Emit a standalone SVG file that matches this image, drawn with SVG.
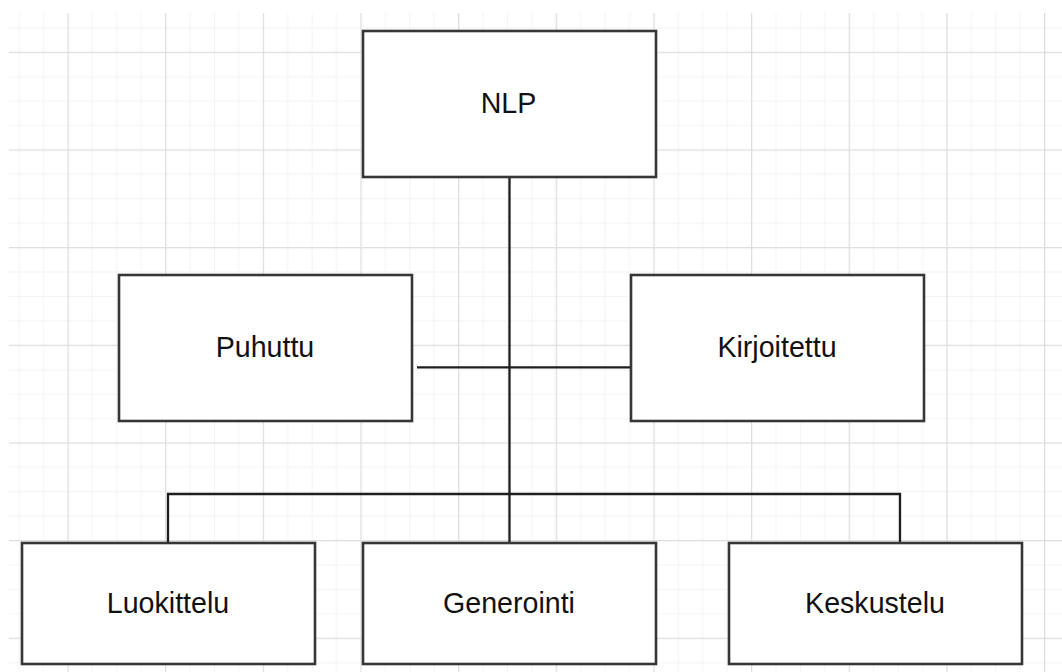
<svg xmlns="http://www.w3.org/2000/svg" width="1062" height="672" viewBox="0 0 1062 672">
  <style>
    .box { fill: #ffffff; stroke: #363636; stroke-width: 2.6; }
    .label { font-family: "Liberation Sans", Arial, sans-serif; font-size: 28.6px; fill: #111111; text-anchor: middle; }
    .link { fill: none; stroke: #1e1e1e; stroke-width: 2.3; }
  </style>
  <defs>
    <pattern id="grid" patternUnits="userSpaceOnUse" x="67.5" y="51.8" width="97.65" height="97.65">
      <rect x="24.41" y="0" width="1" height="97.65" fill="#f3f3f3"/>
      <rect x="48.83" y="0" width="1" height="97.65" fill="#f3f3f3"/>
      <rect x="73.24" y="0" width="1" height="97.65" fill="#f3f3f3"/>
      <rect x="0" y="24.41" width="97.65" height="1" fill="#f3f3f3"/>
      <rect x="0" y="48.83" width="97.65" height="1" fill="#f3f3f3"/>
      <rect x="0" y="73.24" width="97.65" height="1" fill="#f3f3f3"/>
      <rect x="0" y="0" width="1.2" height="97.65" fill="#dcdcdc"/>
      <rect x="0" y="0" width="97.65" height="1.2" fill="#dcdcdc"/>
    </pattern>
  </defs>

  <rect x="0" y="0" width="1062" height="672" fill="#ffffff"/>
  <rect x="9" y="13" width="1053" height="659" fill="url(#grid)"/>

  <!-- tree connectors -->
  <g id="connectors">
    <line class="link" x1="509.5" y1="177" x2="509.5" y2="543"/>
    <line class="link" x1="417" y1="367.3" x2="631" y2="367.3"/>
    <polyline class="link" points="168,543 168,494 900,494 900,543"/>
  </g>

  <g id="node-nlp">
    <rect class="box" x="363" y="31" width="293" height="146"/>
    <text class="label" x="508.5" y="112.5">NLP</text>
  </g>
  <g id="node-puhuttu">
    <rect class="box" x="119" y="275" width="293" height="146"/>
    <text class="label" x="265" y="356.5">Puhuttu</text>
  </g>
  <g id="node-kirjoitettu">
    <rect class="box" x="631" y="275" width="293" height="146"/>
    <text class="label" x="777" y="356.5">Kirjoitettu</text>
  </g>
  <g id="node-luokittelu">
    <rect class="box" x="22" y="543" width="293" height="121"/>
    <text class="label" x="168" y="613.3">Luokittelu</text>
  </g>
  <g id="node-generointi">
    <rect class="box" x="363" y="543" width="293" height="121"/>
    <text class="label" x="509" y="613.3">Generointi</text>
  </g>
  <g id="node-keskustelu">
    <rect class="box" x="729" y="543" width="293" height="121"/>
    <text class="label" x="875" y="613.3">Keskustelu</text>
  </g>
</svg>
